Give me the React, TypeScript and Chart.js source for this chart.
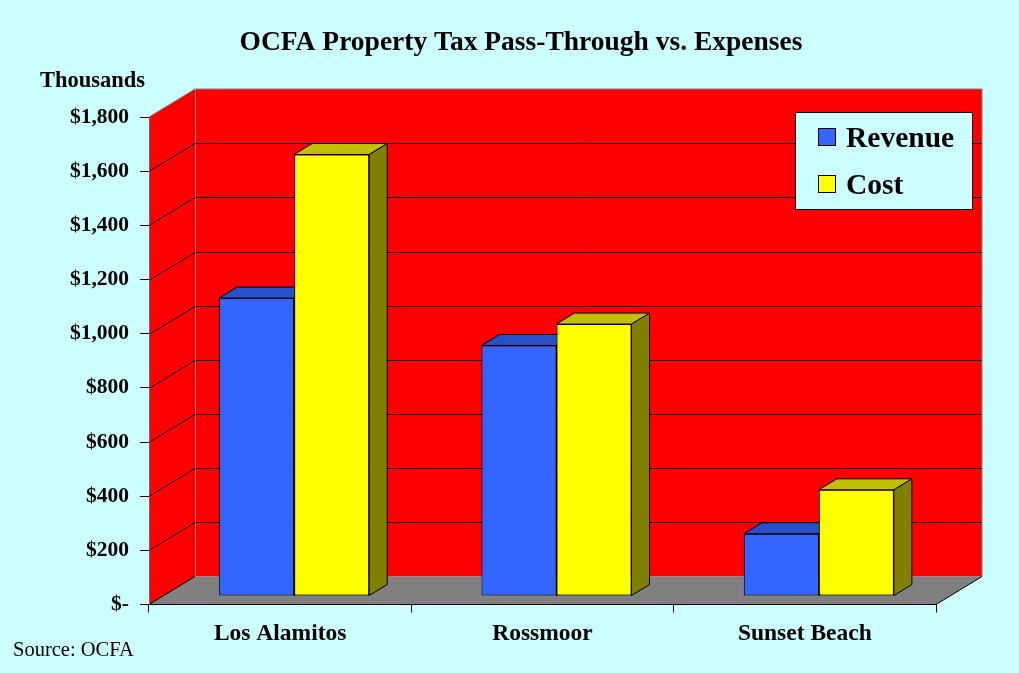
import React, { useEffect, useRef } from "react";
import { Chart, registerables } from "chart.js";

Chart.register(...registerables);

// ---- data ----
const categories = ["Los Alamitos", "Rossmoor", "Sunset Beach"];
const revenue = [1100, 925, 230];
const cost = [1630, 1004, 392];
const yMax = 1800;
const yStep = 200;
const seriesLabels = ["Revenue", "Cost"];
const titleText = "OCFA Property Tax Pass-Through vs. Expenses";
const unitText = "Thousands";
const sourceText = "Source: OCFA";

// ---- style constants ----
const FONT = '"Liberation Serif", "Times New Roman", serif';
const BG = "#CCFFFF";
const WALL = { dx: 46, dy: -28 };
const BAR_OFF = { dx: 14, dy: -8.5 };
const BAR_DEPTH = { dx: 18, dy: -11 };
const FACE = [
  { front: "#3366FF", top: "#2850C8", side: "#1E3C96" },
  { front: "#FFFF00", top: "#C0C000", side: "#808000" },
];

function poly(ctx: CanvasRenderingContext2D, pts: number[][]) {
  ctx.beginPath();
  ctx.moveTo(pts[0][0], pts[0][1]);
  for (let i = 1; i < pts.length; i++) ctx.lineTo(pts[i][0], pts[i][1]);
  ctx.closePath();
}

const threeD = {
  id: "threeD",
  beforeDraw(chart: any) {
    const { ctx, chartArea: a, scales } = chart;
    const ys = scales.y;
    ctx.save();
    ctx.fillStyle = BG;
    ctx.fillRect(0, 0, chart.width, chart.height);

    // title & labels
    ctx.fillStyle = "#000";
    ctx.font = `bold 27.5px ${FONT}`;
    ctx.textAlign = "center";
    ctx.textBaseline = "alphabetic";
    ctx.fillText(titleText, 521, 50);
    ctx.font = `bold 22.5px ${FONT}`;
    ctx.fillText(unitText, 92.5, 87);
    ctx.font = `20.5px ${FONT}`;
    ctx.textAlign = "left";
    ctx.fillText(sourceText, 13, 656);

    const L = a.left, R = a.right, T = a.top, B = a.bottom;
    const dx = WALL.dx, dy = WALL.dy;
    // left wall
    ctx.fillStyle = "#FF0000";
    poly(ctx, [[L, T], [L + dx, T + dy], [L + dx, B + dy], [L, B]]);
    ctx.fill();
    // back wall
    ctx.fillRect(L + dx, T + dy, R - L, B - T);
    // floor
    ctx.fillStyle = "#808080";
    poly(ctx, [[L, B], [L + dx, B + dy], [R + dx, B + dy], [R, B]]);
    ctx.fill();

    // gridlines
    ctx.strokeStyle = "#000";
    ctx.lineWidth = 1;
    ys.ticks.forEach((t: any) => {
      if (t.value <= 0 || t.value >= yMax) return;
      const py = Math.round(ys.getPixelForValue(t.value)) + 0.5;
      ctx.beginPath();
      ctx.moveTo(L, py);
      ctx.lineTo(L + dx, py + dy);
      ctx.lineTo(R + dx, py + dy);
      ctx.stroke();
    });

    // edges
    ctx.strokeStyle = "#808080";
    ctx.beginPath();
    ctx.moveTo(L, T);
    ctx.lineTo(L + dx, T + dy);
    ctx.lineTo(R + dx, T + dy);
    ctx.lineTo(R + dx, B + dy);
    ctx.moveTo(L + dx + 0.5, T + dy);
    ctx.lineTo(L + dx + 0.5, B + dy);
    ctx.stroke();
    ctx.strokeStyle = "#000";
    ctx.beginPath();
    ctx.moveTo(L, B);
    ctx.lineTo(L + dx, B + dy);
    ctx.moveTo(R, B);
    ctx.lineTo(R + dx, B + dy);
    ctx.stroke();
    ctx.restore();
  },
  // skip the default (reverse-order) dataset drawing; bars are drawn below in series order
  beforeDatasetDraw() {
    return false;
  },
  afterDatasetsDraw(chart: any) {
    const ctx = chart.ctx;
    ctx.save();
    ctx.translate(BAR_OFF.dx, BAR_OFF.dy);
    ctx.lineWidth = 1;
    const n = chart.data.datasets.length;
    for (let i = 0; i < n; i++) {
      const meta = chart.getDatasetMeta(i);
      const face = FACE[i % FACE.length];
      meta.data.forEach((el: any) => {
        el.draw(ctx, chart.chartArea);
        const { x, y, base, width } = el.getProps(["x", "y", "base", "width"], true);
        const l = x - width / 2, r = x + width / 2;
        const bx = BAR_DEPTH.dx, by = BAR_DEPTH.dy;
        ctx.strokeStyle = "#000";
        ctx.fillStyle = face.top;
        poly(ctx, [[l, y], [l + bx, y + by], [r + bx, y + by], [r, y]]);
        ctx.fill();
        ctx.stroke();
        ctx.fillStyle = face.side;
        poly(ctx, [[r, y], [r + bx, y + by], [r + bx, base + by], [r, base]]);
        ctx.fill();
        ctx.stroke();
      });
    }
    ctx.restore();
  },
  afterDraw(chart: any) {
    const ctx = chart.ctx;
    ctx.save();
    ctx.fillStyle = BG;
    ctx.fillRect(795.5, 112.5, 177, 97);
    ctx.strokeStyle = "#000";
    ctx.lineWidth = 1;
    ctx.strokeRect(795.5, 112.5, 177, 97);
    const rows = [137, 184];
    chart.data.datasets.forEach((ds: any, i: number) => {
      const cy = rows[i];
      ctx.fillStyle = ds.backgroundColor;
      ctx.fillRect(818.5, cy - 8.5, 17, 17);
      ctx.strokeRect(818.5, cy - 8.5, 17, 17);
      ctx.fillStyle = "#000";
      ctx.font = `bold 29.5px ${FONT}`;
      ctx.textAlign = "left";
      ctx.textBaseline = "alphabetic";
      ctx.fillText(ds.label, 846, cy + 10);
    });
    ctx.restore();
  },
};

export default function App() {
  const ref = useRef<HTMLCanvasElement | null>(null);
  useEffect(() => {
    if (!ref.current) return;
    const chart = new Chart(ref.current, {
      type: "bar",
      data: {
        labels: categories,
        datasets: [
          {
            label: seriesLabels[0],
            data: revenue,
            backgroundColor: FACE[0].front,
            borderColor: "#000",
            borderWidth: 1,
            borderSkipped: false,
          },
          {
            label: seriesLabels[1],
            data: cost,
            backgroundColor: FACE[1].front,
            borderColor: "#000",
            borderWidth: 1,
            borderSkipped: false,
          },
        ],
      },
      options: {
        responsive: false,
        animation: false,
        layout: { padding: { top: 117, right: 83, left: 0, bottom: 0 } },
        datasets: {
          bar: { barPercentage: 1, categoryPercentage: 0.572 },
        },
        plugins: {
          legend: { display: false },
          title: { display: false },
          tooltip: { enabled: false },
        },
        scales: {
          x: {
            type: "category",
            offset: true,
            grid: {
              offset: true,
              drawOnChartArea: false,
              drawTicks: true,
              tickLength: 8,
              color: "#000",
            },
            border: { display: true, color: "#000", width: 1 },
            ticks: {
              color: "#000",
              padding: 7,
              maxRotation: 0,
              font: { family: FONT, weight: "bold", size: 23.5 },
            },
            afterFit: (s: any) => {
              s.height = 68.5;
            },
          },
          y: {
            min: 0,
            max: yMax,
            ticks: {
              stepSize: yStep,
              color: "#000",
              padding: 11,
              font: { family: FONT, weight: "bold", size: 21.5 },
              callback: (v: any) =>
                v === 0 ? "$-" : "$" + Number(v).toLocaleString("en-US"),
            },
            grid: {
              drawOnChartArea: false,
              drawTicks: true,
              tickLength: 9,
              color: "#000",
            },
            border: { display: true, color: "#666", width: 1 },
            afterFit: (s: any) => {
              s.width = 149;
            },
          },
        },
      },
      plugins: [threeD],
    });
    return () => chart.destroy();
  }, []);
  return (
    <div
      style={{
        position: "fixed",
        left: 0,
        top: 0,
        width: 1019,
        height: 673,
        background: BG,
      }}
    >
      <canvas ref={ref} width={1019} height={673} />
    </div>
  );
}
